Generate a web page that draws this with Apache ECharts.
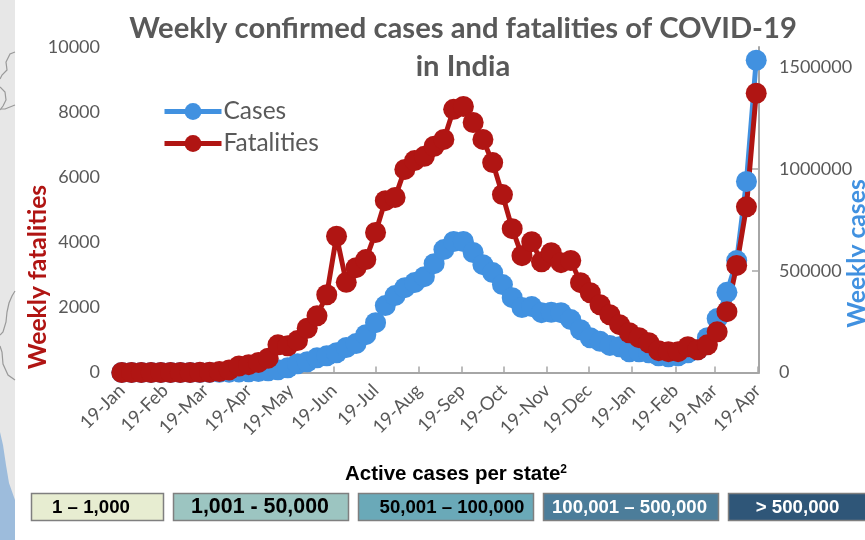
<!DOCTYPE html>
<html>
<head>
<meta charset="utf-8">
<title>Weekly confirmed cases and fatalities of COVID-19 in India</title>
<script src="https://cdn.jsdelivr.net/npm/echarts@6/dist/echarts.min.js"></script>
<style>
  html, body { margin: 0; padding: 0; background: #fff; }
  #main { width: 865px; height: 540px; }
</style>
</head>
<body>
<div id="main"></div>
<script>
// weekly points
var weeks = [
  '2020-01-19','2020-01-26','2020-02-02','2020-02-09','2020-02-16','2020-02-23','2020-03-01','2020-03-08','2020-03-15','2020-03-22',
  '2020-03-29','2020-04-05','2020-04-12','2020-04-19','2020-04-26','2020-05-03','2020-05-10','2020-05-17','2020-05-24','2020-05-31',
  '2020-06-07','2020-06-14','2020-06-21','2020-06-28','2020-07-05','2020-07-12','2020-07-19','2020-07-26','2020-08-02','2020-08-09',
  '2020-08-16','2020-08-23','2020-08-30','2020-09-06','2020-09-13','2020-09-20','2020-09-27','2020-10-04','2020-10-11','2020-10-18',
  '2020-10-25','2020-11-01','2020-11-08','2020-11-15','2020-11-22','2020-11-29','2020-12-06','2020-12-13','2020-12-20','2020-12-27',
  '2021-01-03','2021-01-10','2021-01-17','2021-01-24','2021-01-31','2021-02-07','2021-02-14','2021-02-21','2021-02-28','2021-03-07',
  '2021-03-14','2021-03-21','2021-03-28','2021-04-04','2021-04-11','2021-04-18'
];
var cases = [
  0,0,0,0,0,0,0,20,70,300,
  800,1500,3000,3500,5000,8000,13000,23000,43000,53000,
  72000,82000,97000,123000,142000,186000,245000,329000,378000,417000,
  442000,471000,535000,604000,644000,644000,590000,530000,491000,432000,
  368000,319000,324000,294000,296000,294000,260000,210000,171000,153000,
  133000,126000,102000,102000,97000,82000,77000,82000,97000,112000,
  171000,265000,394000,550000,939000,1535000
];
var fatalities = [
  0,0,0,0,0,0,0,0,5,10,
  30,80,200,240,310,440,850,820,980,1360,
  1740,2390,4185,2770,3220,3470,4300,5280,5380,6240,
  6510,6640,6950,7160,8085,8175,7680,7160,6450,5465,
  4420,3590,4020,3400,3680,3375,3440,2760,2450,2080,
  1775,1470,1220,1070,915,670,640,640,790,700,
  850,1250,1870,3290,5090,8580
];
var tickDates = ['2020-01-19','2020-02-19','2020-03-19','2020-04-19','2020-05-19','2020-06-19','2020-07-19','2020-08-19','2020-09-19','2020-10-19','2020-11-19','2020-12-19','2021-01-19','2021-02-19','2021-03-19','2021-04-19'];
var tickLabels = ['19-Jan','19-Feb','19-Mar','19-Apr','19-May','19-Jun','19-Jul','19-Aug','19-Sep','19-Oct','19-Nov','19-Dec','19-Jan','19-Feb','19-Mar','19-Apr'];
var caseTicks = [0, 500000, 1000000, 1500000];

// bins under the chart
var binLabels = ['1 \u2013 1,000','1,001 - 50,000','50,001 \u2013 100,000','100,001 \u2013 500,000','> 500,000'];
var binColors = ['#e7edd1','#9cc5c1','#6aa9b8','#4c7d9a','#2f5678'];
var binText = ['#000','#000','#000','#fff','#fff'];

var blue = '#4191e0';
var red = '#b01513';
var grey = '#595959';
var font = 'Lato, "Noto Sans", sans-serif';
var arial = '"Liberation Sans", Arial, sans-serif';

function toTime(d) {
  return echarts.time.parse(d).getTime();
}
var tickTimes = tickDates.map(toTime);

function toPairs(arr) {
  return arr.map(function (v, i) { return [toTime(weeks[i]), v]; });
}

// grey strip with bits of the map on the left edge
var decor = [
  { type: 'rect', shape: { x: 0, y: 0, width: 15, height: 540 }, style: { fill: '#e7e7e7' }, silent: true },
  { type: 'polygon', shape: { points: [[0,432],[3,445],[6,465],[9,483],[15,500],[15,540],[0,540]] }, style: { fill: '#9dbcdc' }, silent: true },
  { type: 'polyline', shape: { points: [[15,52],[10,54],[6,62],[7,70],[2,75],[0,79]] }, style: { stroke: '#999', lineWidth: 1.2, fill: null }, silent: true },
  { type: 'polyline', shape: { points: [[0,87],[5,92],[6,100],[3,106],[0,110]] }, style: { stroke: '#999', lineWidth: 1.2, fill: null }, silent: true },
  { type: 'polyline', shape: { points: [[1,109],[5,109],[15,105]] }, style: { stroke: '#999', lineWidth: 1.2, fill: null }, silent: true },
  { type: 'polyline', shape: { points: [[15,291],[12,296],[9,303],[7,312],[6,322],[3,332],[0,335]] }, style: { stroke: '#999', lineWidth: 1.2, fill: null }, silent: true },
  { type: 'polyline', shape: { points: [[0,346],[2,352],[3,364],[8,375],[15,380]] }, style: { stroke: '#999', lineWidth: 1.2, fill: null }, silent: true },
  { type: 'text', x: 38.5, y: 277, rotation: Math.PI / 2, style: { text: 'Weekly fatalities', fill: red, font: 'bold 24.7px ' + font, align: 'center', verticalAlign: 'middle' } },
  { type: 'text', x: 857, y: 253.5, rotation: Math.PI / 2, style: { text: 'Weekly cases', fill: blue, font: 'bold 24.7px ' + font, align: 'center', verticalAlign: 'middle' } },
  { type: 'text', x: 456, y: 474.5, style: {
      text: '{a|Active cases per state}{b|2}',
      align: 'center', verticalAlign: 'middle',
      rich: {
        a: { font: 'bold 20.5px ' + arial, fill: '#000' },
        b: { font: 'bold 12px ' + arial, fill: '#000', verticalAlign: 'top', padding: [0, 0, 6, 0] }
      } } }
];

var boxX = [31, 173, 358, 543, 728];
var boxW = [132, 175, 175, 175, 140];
var labelX = [91, 260, 452, 629.5, 797.5];
var labelSize = [18.7, 21.4, 18.6, 18.6, 18.7];

binLabels.forEach(function (txt, i) {
  decor.push({ type: 'rect', shape: { x: boxX[i] + 0.5, y: 493.5, width: boxW[i], height: 27 },
    style: { fill: binColors[i], stroke: '#7f7f7f', lineWidth: 1.5 }, silent: true });
  decor.push({ type: 'text', x: labelX[i], y: 507.5, style: {
    text: txt, fill: binText[i], font: 'bold ' + labelSize[i] + 'px ' + arial, align: 'center', verticalAlign: 'middle' } });
});

var chart = echarts.init(document.getElementById('main'), null, { renderer: 'canvas' });

chart.setOption({
  animation: false,
  backgroundColor: '#fff',
  title: {
    text: 'Weekly confirmed cases and fatalities of COVID-19\nin India',
    left: 458,
    top: 5,
    textAlign: 'center',
    textStyle: { color: grey, fontFamily: font, fontWeight: 'bold', fontSize: 29.2, lineHeight: 38 }
  },
  legend: {
    orient: 'vertical',
    left: 157,
    top: 94,
    itemWidth: 57,
    itemHeight: 21,
    itemGap: 7,
    data: ['Cases', 'Fatalities'],
    lineStyle: { width: 5 },
    textStyle: { color: grey, fontFamily: font, fontSize: 24.5, padding: [0, 0, 0, -3] }
  },
  grid: { left: 119, right: 106, top: 47, bottom: 167.5 },
  xAxis: {
    type: 'value',
    min: toTime('2020-01-17'),
    max: toTime('2021-04-20'),
    axisLine: { lineStyle: { color: '#a6a6a6', width: 2 } },
    axisTick: { show: true, inside: true, length: 6, customValues: tickTimes, lineStyle: { color: '#a6a6a6', width: 1.5 } },
    axisLabel: {
      customValues: tickTimes,
      rotate: 45,
      margin: 15,
      color: grey,
      fontFamily: font,
      fontSize: 18.5,
      hideOverlap: false,
      formatter: function (val) { return tickLabels[tickTimes.indexOf(val)]; }
    },
    splitLine: { show: false }
  },
  yAxis: [
    {
      type: 'value',
      min: 0,
      max: 10000,
      interval: 2000,
      axisLine: { show: false },
      axisTick: { show: false },
      splitLine: { show: false },
      axisLabel: { color: grey, fontFamily: font, fontSize: 18, margin: 19, formatter: function (val) { return String(val); } }
    },
    {
      type: 'value',
      position: 'right',
      min: 0,
      max: 1600000,
      axisLine: { show: true, lineStyle: { color: '#a6a6a6', width: 2 } },
      axisTick: { show: true, inside: true, length: 7, customValues: caseTicks, lineStyle: { color: '#a6a6a6', width: 1.5 } },
      splitLine: { show: false },
      axisLabel: { customValues: caseTicks, color: grey, fontFamily: font, fontSize: 18, margin: 20, formatter: function (val) { return String(val); } }
    }
  ],
  series: [
    {
      name: 'Cases',
      type: 'line',
      yAxisIndex: 1,
      data: toPairs(cases),
      symbol: 'circle',
      symbolSize: 21,
      showAllSymbol: true,
      clip: false,
      lineStyle: { color: blue, width: 5 },
      itemStyle: { color: blue }
    },
    {
      name: 'Fatalities',
      type: 'line',
      yAxisIndex: 0,
      data: toPairs(fatalities),
      symbol: 'circle',
      symbolSize: 21,
      showAllSymbol: true,
      clip: false,
      lineStyle: { color: red, width: 5 },
      itemStyle: { color: red }
    }
  ],
  graphic: decor
});
</script>
</body>
</html>
